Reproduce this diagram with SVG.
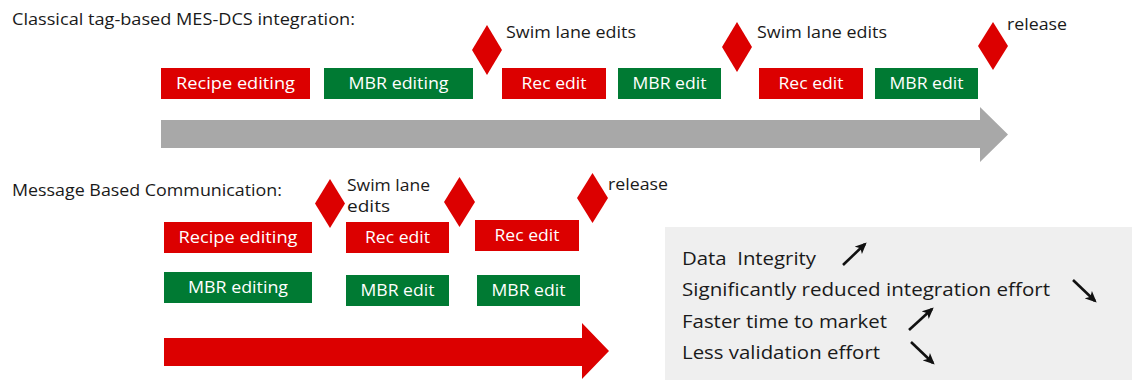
<svg xmlns="http://www.w3.org/2000/svg" width="1138" height="380" viewBox="0 0 1138 380">
<style>
text{font-family:"Open Sans","DejaVu Sans",sans-serif;}
.t{font-size:16.5px;fill:#1a1a1a;}
.bt{font-size:16.5px;fill:#ffffff;text-anchor:middle;}
.rd{fill:#dc0000;}
.gr{fill:#007a33;}
.ms{fill:#dc0000;}
.lt{font-size:18px;fill:#1a1a1a;white-space:pre;}
.ar{stroke:#111;stroke-width:2.6;fill:none;}
</style>
<defs>
<marker id="ah" viewBox="0 0 10 10" refX="8" refY="5" markerWidth="4.4" markerHeight="4.4" orient="auto">
<path d="M0,0.5 L10,5 L0,9.5 L2.5,5 z" fill="#111"/>
</marker>
</defs>
<rect width="1138" height="380" fill="#ffffff"/>

<text class="t" x="12" y="25" textLength="343" lengthAdjust="spacingAndGlyphs">Classical tag-based MES-DCS integration:</text>
<text class="t" x="12" y="196" textLength="270" lengthAdjust="spacingAndGlyphs">Message Based Communication:</text>

<g id="connectors">
<path id="timeline-classic" d="M161,120 H980 V107 L1008,134.5 L980,162 V148 H161 z" fill="#a8a8a8"/>
<path id="timeline-message" d="M164,338 H582 V323 L609,351 L582,379 V366 H164 z" fill="#dc0000"/>
</g>

<!-- Classical row -->
<g id="c-recipe"><rect class="rd" x="161" y="68" width="149" height="31"/><text class="bt" x="235.5" y="89" textLength="119" lengthAdjust="spacingAndGlyphs">Recipe editing</text></g>
<g id="c-mbr"><rect class="gr" x="324" y="68" width="149" height="31"/><text class="bt" x="398.5" y="89" textLength="100" lengthAdjust="spacingAndGlyphs">MBR editing</text></g>
<g id="c-ms1"><polygon class="ms" points="487,25 502,50 487,75 472,50"/><text class="t" x="506" y="38" textLength="130" lengthAdjust="spacingAndGlyphs">Swim lane edits</text></g>
<g id="c-rec1"><rect class="rd" x="502" y="68" width="104" height="31"/><text class="bt" x="554" y="89" textLength="65" lengthAdjust="spacingAndGlyphs">Rec edit</text></g>
<g id="c-mbr1"><rect class="gr" x="618" y="68" width="103" height="31"/><text class="bt" x="669.5" y="89" textLength="74" lengthAdjust="spacingAndGlyphs">MBR edit</text></g>
<g id="c-ms2"><polygon class="ms" points="737,22 752,47 737,72 722,47"/><text class="t" x="757" y="38" textLength="130" lengthAdjust="spacingAndGlyphs">Swim lane edits</text></g>
<g id="c-rec2"><rect class="rd" x="759" y="68" width="104" height="31"/><text class="bt" x="811" y="89" textLength="65" lengthAdjust="spacingAndGlyphs">Rec edit</text></g>
<g id="c-mbr2"><rect class="gr" x="875" y="68" width="103" height="31"/><text class="bt" x="926.5" y="89" textLength="74" lengthAdjust="spacingAndGlyphs">MBR edit</text></g>
<g id="c-ms3"><polygon class="ms" points="993,22 1008,46 993,70 978,46"/><text class="t" x="1007" y="30" textLength="60" lengthAdjust="spacingAndGlyphs">release</text></g>

<!-- Message based row -->
<g id="m-ms1"><polygon class="ms" points="330,179 345,203.5 330,228 315,203.5"/><text class="t" x="347" y="191" textLength="83" lengthAdjust="spacingAndGlyphs">Swim lane</text><text class="t" x="347" y="212" textLength="43" lengthAdjust="spacingAndGlyphs">edits</text></g>
<g id="m-ms2"><polygon class="ms" points="459.5,177 475,202 459.5,227 444,202"/></g>
<g id="m-ms3"><polygon class="ms" points="592.5,173 608,198 592.5,223 577,198"/><text class="t" x="608" y="190" textLength="60" lengthAdjust="spacingAndGlyphs">release</text></g>
<g id="m-recipe"><rect class="rd" x="164" y="222" width="148" height="31"/><text class="bt" x="238" y="243" textLength="119" lengthAdjust="spacingAndGlyphs">Recipe editing</text></g>
<g id="m-rec1"><rect class="rd" x="346" y="222" width="103" height="31"/><text class="bt" x="397.5" y="243" textLength="65" lengthAdjust="spacingAndGlyphs">Rec edit</text></g>
<g id="m-rec2"><rect class="rd" x="475" y="220" width="104" height="31"/><text class="bt" x="527" y="241" textLength="65" lengthAdjust="spacingAndGlyphs">Rec edit</text></g>
<g id="m-mbr"><rect class="gr" x="164" y="272" width="148" height="31"/><text class="bt" x="238" y="293" textLength="100" lengthAdjust="spacingAndGlyphs">MBR editing</text></g>
<g id="m-mbr1"><rect class="gr" x="346" y="275" width="103" height="31"/><text class="bt" x="397.5" y="296" textLength="74" lengthAdjust="spacingAndGlyphs">MBR edit</text></g>
<g id="m-mbr2"><rect class="gr" x="477" y="275" width="103" height="31"/><text class="bt" x="528.5" y="296" textLength="74" lengthAdjust="spacingAndGlyphs">MBR edit</text></g>

<!-- Benefits panel -->
<g id="benefits">
<rect x="665" y="227" width="467" height="153" fill="#efefef"/>
<text class="lt" x="682" y="265" textLength="134" lengthAdjust="spacingAndGlyphs" xml:space="preserve">Data  Integrity</text>
<text class="lt" x="682" y="296" textLength="368" lengthAdjust="spacingAndGlyphs">Significantly reduced integration effort</text>
<text class="lt" x="682" y="328" textLength="205" lengthAdjust="spacingAndGlyphs">Faster time to market</text>
<text class="lt" x="682" y="359" textLength="198" lengthAdjust="spacingAndGlyphs">Less validation effort</text>
<line class="ar" x1="843" y1="265" x2="865" y2="244" marker-end="url(#ah)"/>
<line class="ar" x1="1073" y1="280" x2="1095" y2="301" marker-end="url(#ah)"/>
<line class="ar" x1="909" y1="330" x2="932" y2="309" marker-end="url(#ah)"/>
<line class="ar" x1="911" y1="342" x2="933" y2="363" marker-end="url(#ah)"/>
</g>
</svg>
